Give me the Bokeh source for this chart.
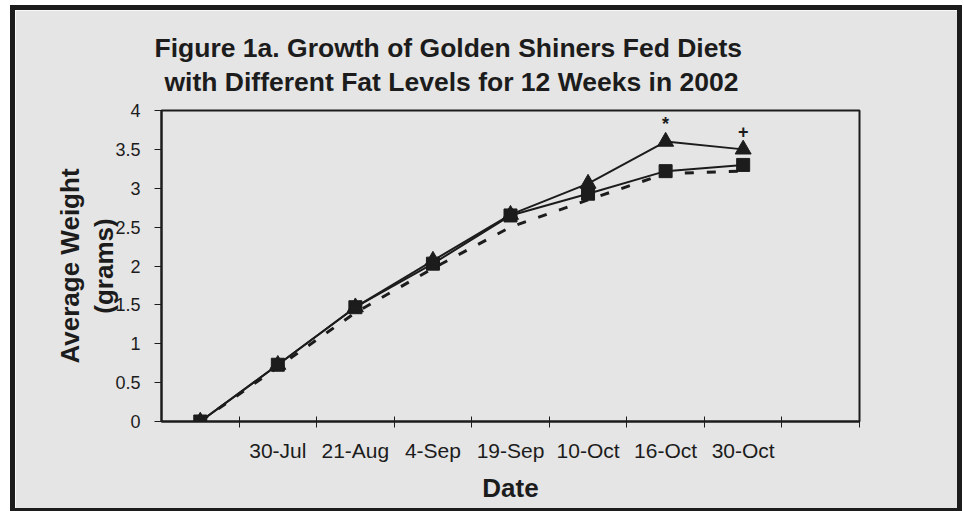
from bokeh.plotting import figure
from bokeh.models import Range1d, FixedTicker, LinearAxis, Title, ColumnDataSource
from bokeh.embed import file_html
from bokeh.resources import INLINE
from bokeh.core.properties import value

# Sampling dates (index 0 is the stocking weight, left unlabeled)
dates = ["", "30-Jul", "21-Aug", "4-Sep", "19-Sep", "10-Oct", "16-Oct", "30-Oct"]

# Average weight (grams) for each diet
diet_triangle = [0.0, 0.73, 1.47, 2.07, 2.66, 3.06, 3.60, 3.50]
diet_square = [0.0, 0.73, 1.47, 2.03, 2.65, 2.93, 3.22, 3.30]
diet_dashed = [0.0, 0.70, 1.40, 1.97, 2.50, 2.85, 3.19, 3.22]

# Significance marks placed over the triangle series
note_dates = ["16-Oct", "30-Oct"]
note_marks = ["*", "+"]

y_ticks = [0, 0.5, 1, 1.5, 2, 2.5, 3, 3.5, 4]
y_tick_labels = ["0", "0.5", "1", "1.5", "2", "2.5", "3", "3.5", "4"]

title_lines = ["Figure 1a. Growth of Golden Shiners Fed Diets",
               "with Different Fat Levels for 12 Weeks in 2002"]

BG = "#e5e5e5"
INK = "#1c1c1c"
FONT = "Liberation Sans"

idx = list(range(len(dates)))
n_slots = len(dates) + 1
src = ColumnDataSource(dict(x=idx, tri=diet_triangle, sq=diet_square, dash=diet_dashed))

p = figure(
    width=942, height=498,
    output_backend="svg", toolbar_location=None,
    x_range=Range1d(-0.5, n_slots - 0.5), y_range=Range1d(y_ticks[0], y_ticks[-1]),
    min_border_left=146, min_border_right=98,
    min_border_top=100, min_border_bottom=87,
    background_fill_color=BG, border_fill_color=BG,
    outline_line_color=INK, outline_line_width=2,
)
p.title = None
p.styles = {"outline": "5px solid #1c1c1c", "margin-left": "15px", "margin-top": "10px"}
p.grid.visible = False

# Two-line title; the second line sits next to the plot box, the first
# line is pulled down onto it with a negative standoff
title_style = dict(align="left", text_font=FONT, text_font_style="bold",
                   text_font_size="26.5px", text_color=INK)
p.add_layout(Title(text=title_lines[1], offset=3, standoff=28, **title_style), "above")
p.add_layout(Title(text=title_lines[0], offset=-7, standoff=-24, **title_style), "above")

# Category axis: ticks between dates, labels centred on dates
xa = p.xaxis[0]
xa.ticker = FixedTicker(ticks=idx[1:], minor_ticks=[i + 0.5 for i in range(n_slots)])
xa.major_label_overrides = {i: dates[i] for i in idx[1:]}
xa.major_tick_in = 0
xa.major_tick_out = 0
xa.minor_tick_in = 5
xa.minor_tick_out = 6
xa.minor_tick_line_color = INK
xa.minor_tick_line_width = 1
xa.axis_line_color = INK
xa.axis_line_width = 2
xa.major_label_standoff = 11
xa.major_label_text_font = FONT
xa.major_label_text_font_size = "21px"
xa.major_label_text_color = INK
xa.axis_label = "Date"
xa.axis_label_standoff = 8
xa.axis_label_text_font = FONT
xa.axis_label_text_font_style = "bold"
xa.axis_label_text_font_size = "26px"
xa.axis_label_text_color = INK

ya = p.yaxis[0]
ya.ticker = FixedTicker(ticks=y_ticks, minor_ticks=[])
ya.major_label_overrides = {t: s for t, s in zip(y_ticks, y_tick_labels)}
ya.major_tick_in = 0
ya.major_tick_out = 7
ya.major_tick_line_color = INK
ya.major_tick_line_width = 1
ya.minor_tick_out = 0
ya.axis_line_color = INK
ya.axis_line_width = 2
ya.major_label_standoff = 14
ya.major_label_text_font = FONT
ya.major_label_text_font_size = "18px"
ya.major_label_text_color = INK
ya.axis_label = "(grams)"
ya.axis_label_standoff = -7
ya.axis_label_text_font = FONT
ya.axis_label_text_font_style = "bold"
ya.axis_label_text_font_size = "26px"
ya.axis_label_text_color = INK

# Outer, tick-less axis carrying the first line of the y label
ya2 = LinearAxis(ticker=FixedTicker(ticks=[]), axis_line_color=None,
                 major_tick_out=0, major_tick_in=0, minor_tick_out=0,
                 major_label_text_font_size="0px", major_label_standoff=0,
                 axis_label="Average Weight", axis_label_standoff=2,
                 axis_label_text_font=FONT, axis_label_text_font_style="bold",
                 axis_label_text_font_size="26px", axis_label_text_color=INK)
p.add_layout(ya2, "left")

# Series
p.line("x", "dash", source=src, line_color=INK, line_width=3, line_dash="9 13")
p.line("x", "sq", source=src, line_color=INK, line_width=2)
p.line("x", "tri", source=src, line_color=INK, line_width=2)
p.scatter("x", "sq", source=src, marker="square", size=13, fill_color=INK, line_color=INK)
p.scatter("x", "tri", source=src, marker="triangle", size=16, fill_color=INK, line_color=INK)

note_x = [dates.index(d) for d in note_dates]
note_y = [diet_triangle[i] for i in note_x]
p.text(x=note_x, y=note_y, text=note_marks, y_offset=-18, text_align="center",
       text_baseline="middle", text_font=value(FONT), text_font_style="bold",
       text_font_size="18px", text_color=INK)

open("out.html", "w").write(file_html(p, INLINE))
